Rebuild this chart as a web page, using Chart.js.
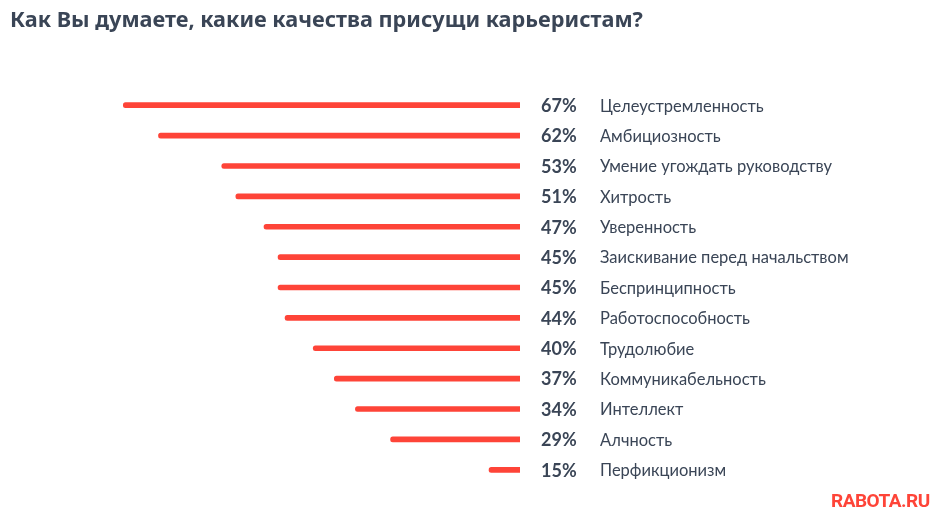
<!DOCTYPE html>
<html lang="ru">
<head>
<meta charset="utf-8">
<script src="https://cdn.jsdelivr.net/npm/chart.js@4/dist/chart.umd.min.js"></script>
<style>
  html, body { margin: 0; padding: 0; background: #fff; }
  #wrap { position: relative; width: 941px; height: 520px; }
  #title {
    position: absolute; left: 10px; top: 4px;
    font: bold 21.7px "Noto Sans", Lato, sans-serif; color: #3a4556;
    white-space: nowrap;
  }
  #logo {
    position: absolute; left: 831px; top: 489px;
    font: bold 19px "Liberation Sans Narrow", "Roboto", sans-serif; color: #fe4438;
    letter-spacing: -0.5px;
  }
</style>
</head>
<body>
<div id="wrap">
  <canvas id="chart" width="941" height="520"></canvas>
  <div id="title">Как Вы думаете, какие качества присущи карьеристам?</div>
  <div id="logo">RABOTA.RU</div>
</div>
<script>
  const categories = [
    'Целеустремленность',
    'Амбициозность',
    'Умение угождать руководству',
    'Хитрость',
    'Уверенность',
    'Заискивание перед начальством',
    'Беспринципность',
    'Работоспособность',
    'Трудолюбие',
    'Коммуникабельность',
    'Интеллект',
    'Алчность',
    'Перфикционизм'
  ];
  const values = [67, 62, 53, 51, 47, 45, 45, 44, 40, 37, 34, 29, 15];

  const textColor = '#3a4556';

  // percentages and names to the right of the bars
  const rowLabels = {
    id: 'rowLabels',
    afterDatasetsDraw(chart) {
      const ctx = chart.ctx;
      const y = chart.scales.y;
      ctx.save();
      ctx.textBaseline = 'middle';
      ctx.fillStyle = textColor;
      categories.forEach((name, i) => {
        const py = y.getPixelForValue(i) + 1;
        ctx.font = 'bold 18px Lato, "Noto Sans", sans-serif';
        ctx.fillText(values[i] + '%', 541, py);
        ctx.font = '16.5px Lato, "Noto Sans", sans-serif';
        ctx.fillText(name, 600, py);
      });
      ctx.restore();
    }
  };

  new Chart(document.getElementById('chart'), {
    type: 'bar',
    data: {
      labels: categories,
      datasets: [{
        data: values,
        backgroundColor: '#fe4438',
        barThickness: 5,
        borderRadius: 3,
        borderSkipped: false
      }]
    },
    options: {
      indexAxis: 'y',
      responsive: false,
      animation: false,
      layout: { padding: { left: 34, right: 421, top: 90, bottom: 35 } },
      scales: {
        x: { display: false, reverse: true, min: 10.6, max: 79.7 },
        y: { display: false }
      },
      plugins: {
        legend: { display: false },
        tooltip: { enabled: false }
      }
    },
    plugins: [rowLabels]
  });
</script>
</body>
</html>
